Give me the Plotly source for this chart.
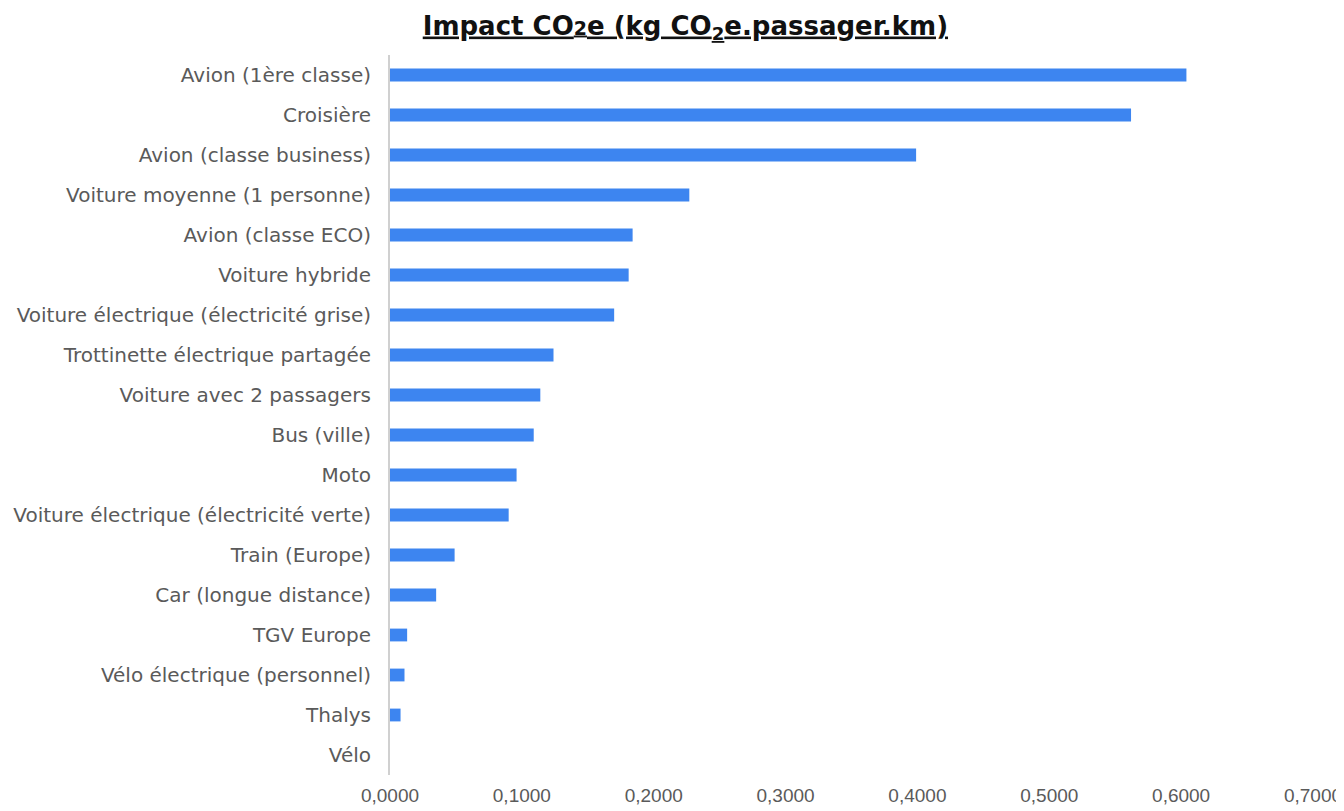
import plotly.graph_objects as go

categories = [
    "Avion (1ère classe)",
    "Croisière",
    "Avion (classe business)",
    "Voiture moyenne (1 personne)",
    "Avion (classe ECO)",
    "Voiture hybride",
    "Voiture électrique (électricité grise)",
    "Trottinette électrique partagée",
    "Voiture avec 2 passagers",
    "Bus (ville)",
    "Moto",
    "Voiture électrique (électricité verte)",
    "Train (Europe)",
    "Car (longue distance)",
    "TGV Europe",
    "Vélo électrique (personnel)",
    "Thalys",
    "Vélo",
]
values = [0.604, 0.562, 0.399, 0.227, 0.184, 0.181, 0.170, 0.124, 0.114,
          0.109, 0.096, 0.090, 0.049, 0.035, 0.013, 0.011, 0.008, 0.0]
tick_vals = [0, 0.1, 0.2, 0.3, 0.4, 0.5, 0.6, 0.7]
tick_text = ["0,0000", "0,1000", "0,2000", "0,3000", "0,4000", "0,5000", "0,6000", "0,7000"]

fig = go.Figure(go.Bar(
    x=values, y=categories, orientation="h",
    marker=dict(color="#3d85f0", line=dict(width=0)),
    width=0.32,
))

fig.update_layout(
    width=1344, height=811,
    paper_bgcolor="white", plot_bgcolor="white",
    margin=dict(l=382, r=39, t=47, b=44),
    showlegend=False,
    font=dict(family="DejaVu Sans, sans-serif", size=20, color="#5a5a5a"),
    title=dict(
        text="<b><u>Impact CO<span style='font-size:19px'>2</span>e (kg CO<sub>2</sub>e.passager.km)</u></b>",
        x=0.504, xanchor="center", y=0.9785, yanchor="middle",
        font=dict(size=26, color="#111111", family="DejaVu Sans, sans-serif"),
    ),
    xaxis=dict(
        range=[0, 0.7], tickvals=tick_vals, ticktext=tick_text,
        showgrid=False, zeroline=False, showline=False, ticks="",
        ticklabelstandoff=7, automargin=False,
        tickfont=dict(size=19, color="#5a5a5a", family="Liberation Sans, Arial, sans-serif"),
    ),
    yaxis=dict(
        categoryorder="array", categoryarray=categories[::-1],
        showgrid=False, zeroline=False,
        showline=True, linecolor="#d0d0d0", linewidth=2,
        ticks="", ticklabelstandoff=13, automargin=False,
        tickfont=dict(size=20, color="#5a5a5a", family="DejaVu Sans, sans-serif"),
    ),
)

fig.write_html("out.html")
